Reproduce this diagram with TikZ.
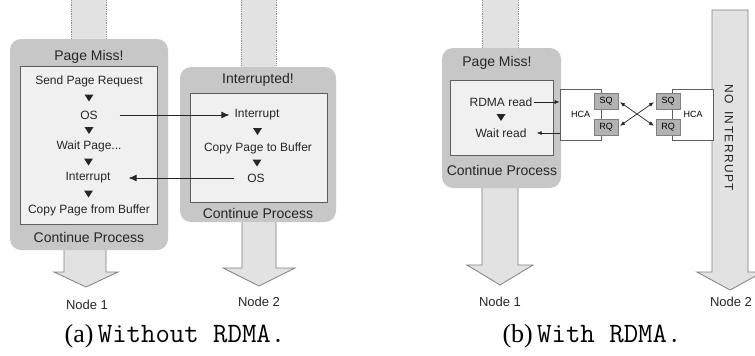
\documentclass[tikz,border=0pt]{standalone}
\usepackage{fontspec}
\setmainfont{Liberation Serif}
\setsansfont{Liberation Sans}
\usepackage{tikz}
\usetikzlibrary{arrows.meta,calc}
\definecolor{boxgray}{RGB}{199,199,199}
\definecolor{innergray}{RGB}{240,240,240}
\definecolor{shaftgray}{RGB}{226,226,226}
\definecolor{linegray}{RGB}{95,95,95}
\definecolor{queuegray}{RGB}{178,178,178}
\newcommand{\downtri}[1]{\fill[black!85] (#1) +(-4.5,-3.5) -- +(4.5,-3.5) -- +(0,3.5) -- cycle;}
\newcommand{\captt}[1]{{\ttfamily\fontsize{28}{30}\selectfont #1}}

\begin{document}
\begin{tikzpicture}[x=1pt,y=-1pt,font=\sffamily]
	\path [use as bounding box] (0,0) rectangle (755,356);
	\tikzstyle{graybox} = [fill=boxgray, rounded corners=11pt]
	\tikzstyle{innerbox} = [fill=innergray, draw=linegray, line width=0.8pt]
	\tikzstyle{shaft} = [fill=shaftgray, draw=linegray!80, line width=0.8pt]
	\tikzstyle{dotline} = [draw=linegray!70, densely dotted, line width=0.8pt]
	\tikzstyle{title} = [font=\sffamily\fontsize{14}{16}\selectfont, text=black!85]
	\tikzstyle{item} = [font=\sffamily\fontsize{12}{14}\selectfont, text=black!85, inner sep=1pt]
	\tikzstyle{hca} = [draw=linegray, fill=white, line width=0.7pt, minimum width=41pt, minimum height=51pt, font=\sffamily\fontsize{9}{10}\selectfont]
	\tikzstyle{queue} = [draw=linegray!80, fill=queuegray, line width=0.7pt, minimum width=24pt, minimum height=16pt, inner sep=0pt, font=\sffamily\fontsize{9}{10}\selectfont]
	\tikzstyle{bigtip} = [-{Latex[length=8pt,width=7pt]}, line width=1pt, black!85]
	\tikzstyle{smalltip} = [line width=0.7pt, black!85]
	\tikzstyle{caption} = [font=\rmfamily\fontsize{26}{28}\selectfont, inner sep=0pt]

	\fill[shaftgray] (71,0) rectangle (106,45);
	\draw[dotline] (71,0) -- (71,45) (106,0) -- (106,45);
	\fill[shaftgray] (241,0) rectangle (276,72);
	\draw[dotline] (241,0) -- (241,72) (276,0) -- (276,72);
	\fill[shaftgray] (482,0) rectangle (518,52);
	\draw[dotline] (482,0) -- (482,52) (518,0) -- (518,52);

	\draw[shaft] (64,245) -- (64,272) -- (54,272) -- (86,287) -- (118,272) -- (106,272) -- (106,245);
	\draw[shaft] (242,218) -- (242,268) -- (223,268) -- (259,286) -- (295,268) -- (276,268) -- (276,218);
	\draw[shaft] (482,184) -- (482,265) -- (467,265) -- (500,285) -- (533,265) -- (518,265) -- (518,184);
	\draw[shaft] (712,10) -- (712,272) -- (697,272) -- (730,290) -- (763,272) -- (748,272) -- (748,10) -- cycle;

	\path[graybox] (10,39) rectangle (168,250);
	\path[innerbox] (20,66) rectangle (157,224);
	\path[graybox] (180,67) rectangle (336,222);
	\path[innerbox] (190,93) rectangle (327,202);
	\path[graybox] (442,48) rectangle (561,188);
	\path[innerbox] (450,80) rectangle (553,155);

	\node[title] (t1) at (89,57) {Page Miss!};
	\node[item] (s1) at (89,81) {Send Page Request};
	\node[item] (s2) at (89,115) {OS};
	\node[item] (s3) at (89,146) {Wait Page...};
	\node[item] (s4) at (88,178) {Interrupt};
	\node[item] (s5) at (89,210) {Copy Page from Buffer};
	\node[title] (c1) at (89,237) {Continue Process};
	\downtri{$(s1)!0.5!(s2)$}
	\downtri{$(s2)!0.5!(s3)$}
	\downtri{$(s3)!0.5!(s4)$}
	\downtri{$(s4)!0.5!(s5)$}

	\node[title] (t2) at (258,80) {Interrupted!};
	\node[item] (r1) at (257,115) {Interrupt};
	\node[item] (r2) at (258,148) {Copy Page to Buffer};
	\node[item] (r3) at (256,178) {OS};
	\node[title] (c2) at (258,213) {Continue Process};
	\downtri{$(r1)!0.5!(r2)$}
	\downtri{$(r2)!0.5!(r3)$}

	\draw[bigtip] ([xshift=21pt]s2.east) -- ([xshift=-4pt]r1.west);
	\draw[bigtip] ([xshift=-12pt]r3.west) -- ([xshift=17pt]s4.east);

	\node[item, font=\sffamily\fontsize{13}{15}\selectfont] (n1a) at (87,305) {Node 1};
	\node[item, font=\sffamily\fontsize{13}{15}\selectfont] (n2a) at (259,302) {Node 2};

	\node[title] (t3) at (497,63) {Page Miss!};
	\node[item] (rd) at (501,102) {RDMA read};
	\node[item] (wr) at (501,133) {Wait read};
	\node[title] (c3) at (502,170) {Continue Process};
	\downtri{$(rd)!0.5!(wr)$}

	\node[hca] (hcaL) at (580.5,114.5) {HCA};
	\node[hca] (hcaR) at (693,114.5) {HCA};
	\node[queue] (sqL) at (606,101) {SQ};
	\node[queue] (rqL) at (606,127) {RQ};
	\node[queue] (sqR) at (668,101) {SQ};
	\node[queue] (rqR) at (668,127) {RQ};

	\draw[smalltip, -{Latex[length=5pt,width=4pt]}] (rd.east) -- (rd.east -| hcaL.west);
	\draw[smalltip, -{Latex[length=5pt,width=4pt]}] (wr.east -| hcaL.west) -- ([xshift=9pt]wr.east);
	\draw[smalltip, {Latex[length=5pt,width=4pt]}-{Latex[length=5pt,width=4pt]}, shorten <=2pt, shorten >=2pt] (sqL.east) -- (rqR.west);
	\draw[smalltip, {Latex[length=5pt,width=4pt]}-{Latex[length=5pt,width=4pt]}, shorten <=2pt, shorten >=2pt] (rqL.east) -- (sqR.west);

	\node[item, rotate=-90, font=\sffamily\fontsize{12}{14}\selectfont\addfontfeature{LetterSpace=12}] (noint) at (729,138) {NO\hspace{7pt}INTERRUPT};

	\node[item, font=\sffamily\fontsize{13}{15}\selectfont] (n1b) at (500,302) {Node 1};
	\node[item, font=\sffamily\fontsize{13}{15}\selectfont] (n2b) at (731,302) {Node 2};

	\node[caption] (capa) at (175,336) {(a)\,\captt{Without RDMA.}};
	\node[caption] (capb) at (592,336) {(b)\,\captt{With RDMA.}};
\end{tikzpicture}
\end{document}
